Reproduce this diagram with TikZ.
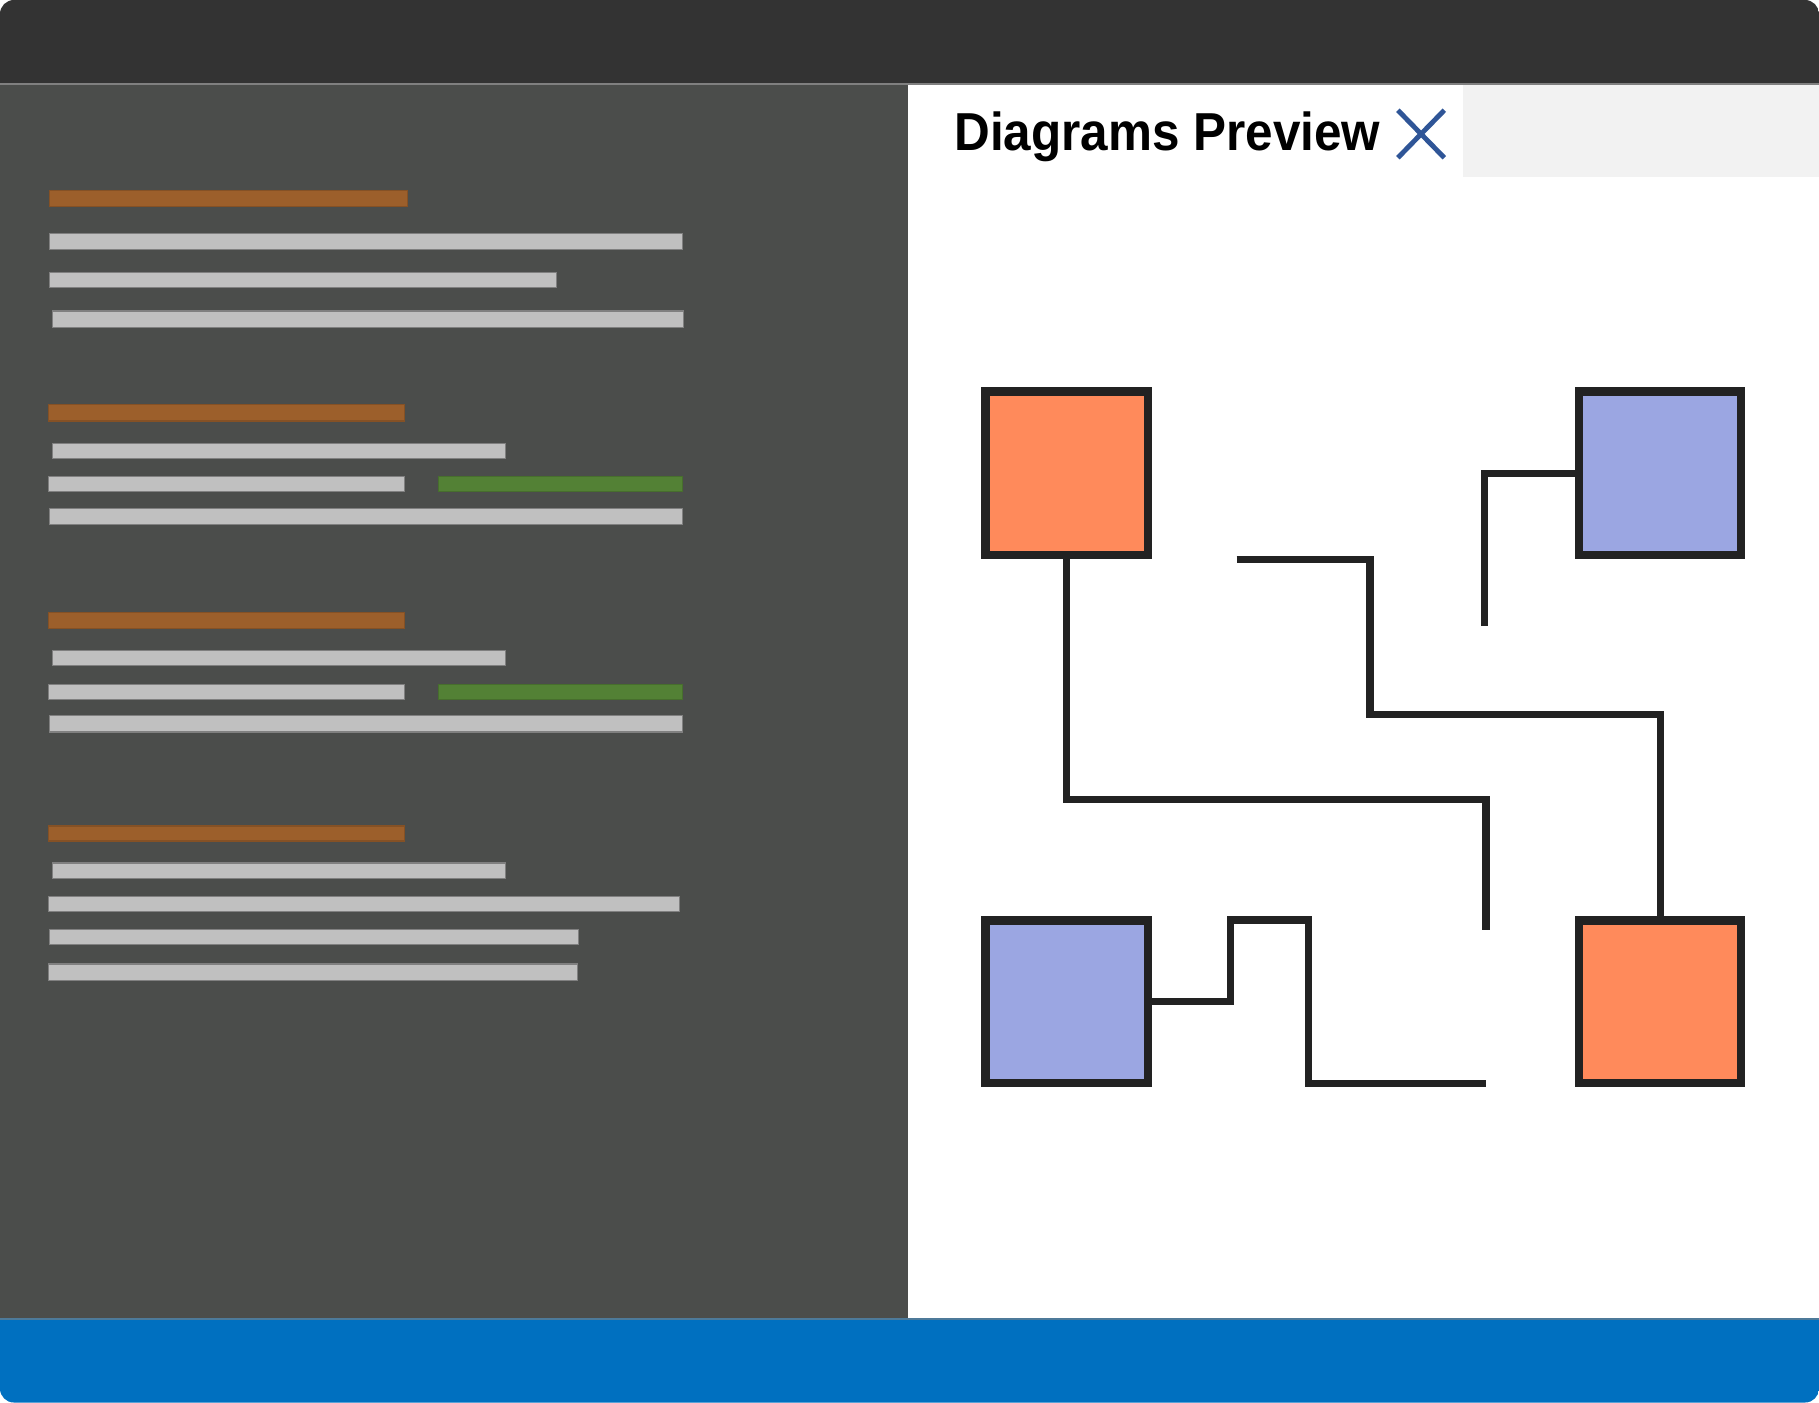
\documentclass[tikz,border=0pt]{standalone}
\usepackage{fontspec}
\setmainfont{Liberation Sans}
\definecolor{titlebar}{HTML}{333333}
\definecolor{leftpanel}{HTML}{4B4D4B}
\definecolor{tabgray}{HTML}{F2F2F2}
\definecolor{statusblue}{HTML}{0070C0}
\definecolor{sepgray}{HTML}{808080}
\definecolor{codeorange}{HTML}{9C5F2B}
\definecolor{codegreen}{HTML}{538135}
\definecolor{codegray}{HTML}{C0C0C0}
\definecolor{boxline}{HTML}{222222}
\definecolor{boxorange}{HTML}{FF8A5B}
\definecolor{boxblue}{HTML}{9BA6E2}
\definecolor{xblue}{HTML}{2F5597}
\tikzset{
  graybar/.style={fill=codegray, draw=sepgray, line width=0.3pt},
  orangebar/.style={fill=codeorange, draw=codeorange!85!black, line width=0.3pt},
  greenbar/.style={fill=codegreen, draw=codegreen!85!black, line width=0.3pt},
  blockbox/.style={draw=boxline, line width=2pt, minimum width=1.40cm, minimum height=1.41cm, inner sep=0pt},
  wire/.style={draw=boxline, line width=1.75pt}
}
\begin{document}
\begin{tikzpicture}[x=0.01cm,y=-0.01cm]
\useasboundingbox (0,0) rectangle (1568,1209);
\begin{scope}
  \clip[rounded corners=0.12cm] (0,0) rectangle (1568,1209);
  \fill[titlebar] (0,0) rectangle (1568,72);
  \fill[leftpanel] (0,72) rectangle (783,1137);
  \fill[white] (783,72) rectangle (1568,1137);
  \fill[tabgray] (1261,73) rectangle (1568,153);
  \fill[statusblue] (0,1137) rectangle (1568,1209);
  \draw[sepgray, line width=0.5pt] (0,72.5) -- (1568,72.5);
  \draw[sepgray!60!statusblue, line width=0.4pt] (0,1137) -- (1568,1137);
\end{scope}
% code bars, group 1
\draw[orangebar] (43,164) rectangle (351,178);
\draw[graybar] (43,201) rectangle (588,215);
\draw[graybar] (43,235) rectangle (480,248);
\draw[graybar] (45,268) rectangle (589,282);
% group 2
\draw[orangebar] (42,349) rectangle (349,363);
\draw[graybar] (45,382) rectangle (436,395);
\draw[graybar] (42,411) rectangle (349,424);
\draw[greenbar] (378,411) rectangle (588,424);
\draw[graybar] (43,438) rectangle (588,452);
% group 3
\draw[orangebar] (42,528) rectangle (349,542);
\draw[graybar] (45,561) rectangle (436,574);
\draw[graybar] (42,590) rectangle (349,603);
\draw[greenbar] (378,590) rectangle (588,603);
\draw[graybar] (43,617) rectangle (588,631);
% group 4
\draw[orangebar] (42,712) rectangle (349,725);
\draw[graybar] (45,744) rectangle (436,757);
\draw[graybar] (42,773) rectangle (586,786);
\draw[graybar] (43,801) rectangle (499,814);
\draw[graybar] (42,831) rectangle (498,845);
% title
\node[anchor=base west, inner sep=0pt, font=\bfseries\fontsize{13.1pt}{15pt}\selectfont] (title) at (822,130) {\scalebox{0.925}[1]{Diagrams Preview}};
\coordinate (xa) at (1205,95);
\coordinate (xb) at (1245,136);
\coordinate (xc) at (1205,136);
\coordinate (xd) at (1245,95);
\draw[xblue, line width=1.2pt] (xa) -- (xb) (xc) -- (xd);
% diagram boxes
\node[blockbox, fill=boxorange] (tl) at (919.5,408) {};
\node[blockbox, fill=boxblue] (tr) at (1431,408) {};
\node[blockbox, fill=boxblue, minimum height=1.40cm] (bl) at (919.5,863.5) {};
\node[blockbox, fill=boxorange, minimum height=1.40cm] (br) at (1431,863.5) {};
% connector points
\coordinate (k1) at (1281,689);
\coordinate (c1) at (1281,802);
\coordinate (c2) at (1066,482.5);
\coordinate (k2) at (1181,616);
\coordinate (c3) at (1280,540);
\coordinate (k4a) at (1061,793);
\coordinate (k4b) at (1128,934);
\coordinate (c4) at (1281,934);
% connectors
\draw[wire] (tl.south) |- (k1) -- (c1);
\draw[wire] (c2) -| (k2) -| (br.north);
\draw[wire] (tr.west) -| (c3);
\draw[wire] (bl.east) -| (k4a) -| (k4b) -- (c4);
\end{tikzpicture}
\end{document}
